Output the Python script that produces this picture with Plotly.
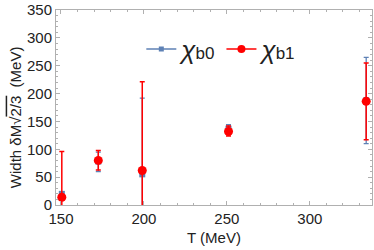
import plotly.graph_objects as go

T = [150.5, 172.5, 199.0, 251.0, 334.0]
chi_b0 = [20.0, 78.0, 55.0, 137.0, 188.0]
chi_b0_up = [24.0, 95.0, 192.0, 144.0, 265.0]
chi_b0_lo = [16.0, 60.0, -40.0, 128.0, 110.0]
chi_b1 = [14.0, 80.0, 62.0, 132.0, 186.0]
chi_b1_up = [96.0, 98.0, 221.0, 142.0, 255.0]
chi_b1_lo = [-60.0, 63.0, -80.0, 124.0, 117.0]

blue = "#5E81B5"
red = "#FF0000"

def err(v, up, lo):
    return dict(type="data", symmetric=False,
                array=[u - x for u, x in zip(up, v)],
                arrayminus=[x - l for l, x in zip(lo, v)])

fig = go.Figure()
e0 = err(chi_b0, chi_b0_up, chi_b0_lo)
e0.update(color=blue, thickness=1.3, width=2.5)
fig.add_trace(go.Scatter(x=T, y=chi_b0, mode="markers", showlegend=False,
                         marker=dict(symbol="square", size=6, color=blue),
                         error_y=e0, cliponaxis=True))
e1 = err(chi_b1, chi_b1_up, chi_b1_lo)
e1.update(color=red, thickness=1.5, width=2.5)
fig.add_trace(go.Scatter(x=T, y=chi_b1, mode="markers", showlegend=False,
                         marker=dict(symbol="circle", size=9, color=red),
                         error_y=e1, cliponaxis=True))
# legend entries
fig.add_trace(go.Scatter(x=[None], y=[None], mode="lines+markers",
                         name="<i>χ</i><span style='font-size:17px'>b0</span>",
                         line=dict(color=blue, width=1.5),
                         marker=dict(symbol="square", size=5, color=blue)))
fig.add_trace(go.Scatter(x=[None], y=[None], mode="lines+markers",
                         name="<i>χ</i><span style='font-size:17px'>b1</span>",
                         line=dict(color=red, width=1.5),
                         marker=dict(symbol="circle", size=8, color=red)))

axcommon = dict(showgrid=False, zeroline=False, mirror="ticks", showline=True,
                linecolor="#b0b0b0", linewidth=1, ticks="inside", tickcolor="#b0b0b0",
                ticklen=4, tickfont=dict(family="Liberation Sans, Arial", size=15, color="#222"),
                automargin=False)

fig.update_layout(
    width=374, height=250,
    margin=dict(l=56, r=2, t=10, b=45),
    paper_bgcolor="white", plot_bgcolor="white",
    font=dict(family="Liberation Sans, Arial", color="#222"),
    xaxis=dict(range=[147, 337.5], tickvals=[150, 200, 250, 300],
               minor=dict(dtick=10, tick0=150, ticks="inside", ticklen=2, tickcolor="#b0b0b0"),
               **axcommon),
    yaxis=dict(range=[0, 350], tickvals=[0, 50, 100, 150, 200, 250, 300, 350],
               minor=dict(dtick=10, ticks="inside", ticklen=2, tickcolor="#b0b0b0"),
               **axcommon),
    legend=dict(orientation="h", x=0.27, y=0.8, xanchor="left", yanchor="middle",
                font=dict(size=26, family="Liberation Sans, Arial", color="#222"),
                bgcolor="rgba(0,0,0,0)", itemwidth=30, tracegroupgap=0),
    annotations=[
        dict(text="T (MeV)", xref="paper", yref="paper", x=0.5, y=-0.165,
             xanchor="center", yanchor="middle", showarrow=False,
             font=dict(size=15, color="#222")),
        dict(text="Width δM√<span style='text-decoration:overline'>2/3</span>  (MeV)",
             xref="paper", yref="paper", x=-0.13, y=0.45, textangle=-90,
             xanchor="center", yanchor="middle", showarrow=False,
             font=dict(size=15, color="#222")),
    ],
)

fig.write_html("out.html", config={"displayModeBar": False},
               post_script="document.body.style.margin='0';document.body.style.overflow='hidden';")
